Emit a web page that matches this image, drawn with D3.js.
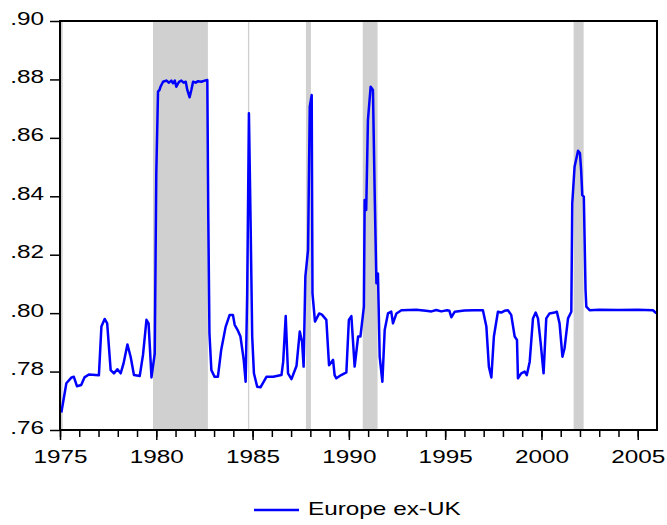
<!DOCTYPE html>
<html>
<head>
<meta charset="utf-8">
<script src="https://cdn.jsdelivr.net/npm/d3@7"></script>
<style>
  body { margin: 0; background: #fff; }
  text { font-family: "Liberation Sans", Arial, sans-serif; fill: #000; }
</style>
</head>
<body>
<div id="chart"></div>
<script>
// Data (decimal year, value)
var dates = [
  1975.07, 1975.33, 1975.6, 1975.72, 1975.88, 1976.1, 1976.27, 1976.5, 1977.02, 1977.15,
  1977.32, 1977.45, 1977.63, 1977.8, 1977.98, 1978.15, 1978.3, 1978.5, 1978.67, 1978.84,
  1979.14, 1979.31, 1979.49, 1979.6, 1979.75, 1979.92, 1980.0, 1980.09, 1980.17, 1980.22,
  1980.35, 1980.52, 1980.66, 1980.78, 1980.87, 1980.96, 1981.04, 1981.18, 1981.3, 1981.42,
  1981.53, 1981.61, 1981.73, 1981.82, 1981.91, 1982.05, 1982.17, 1982.34, 1982.51, 1982.65,
  1982.7, 1982.76, 1982.86, 1983.03, 1983.2, 1983.37, 1983.6, 1983.81, 1983.98, 1984.07,
  1984.24, 1984.37, 1984.54, 1984.64, 1984.72, 1984.81, 1984.9, 1984.98, 1985.07, 1985.24,
  1985.41, 1985.72, 1986.07, 1986.25, 1986.5, 1986.59, 1986.72, 1986.84, 1987.02, 1987.14,
  1987.28, 1987.45, 1987.57, 1987.65, 1987.74, 1987.88, 1987.97, 1988.07, 1988.11, 1988.24,
  1988.46, 1988.6, 1988.83, 1988.97, 1989.18, 1989.26, 1989.35, 1989.6, 1989.87, 1990.0,
  1990.13, 1990.3, 1990.48, 1990.6, 1990.78, 1990.82, 1990.9, 1990.99, 1991.13, 1991.25,
  1991.34, 1991.43, 1991.51, 1991.6, 1991.74, 1991.86, 1992.03, 1992.2, 1992.29, 1992.47,
  1992.73, 1993.5, 1994.0, 1994.29, 1994.54, 1994.8, 1995.1, 1995.22, 1995.32, 1995.5,
  1996.0, 1996.5, 1996.96, 1997.14, 1997.27, 1997.4, 1997.53, 1997.74, 1997.91, 1998.08,
  1998.26, 1998.43, 1998.61, 1998.73, 1998.78, 1998.95, 1999.13, 1999.24, 1999.39, 1999.56,
  1999.7, 1999.82, 1999.96, 2000.11, 2000.25, 2000.42, 2000.68, 2000.8, 2000.94, 2001.09,
  2001.2, 2001.38, 2001.55, 2001.6, 2001.72, 2001.9, 2002.0, 2002.06, 2002.12, 2002.2,
  2002.29, 2002.33, 2002.5, 2003.0, 2004.0, 2005.0, 2005.79, 2005.97
];
var values = [
  .766, .776, .778, .7782, .775, .7754, .778, .779, .7787, .7954,
  .798, .7965, .7805, .7794, .7808, .7794, .7828, .7893, .785, .7788,
  .7785, .7857, .7977, .7965, .778, .7862, .848, .8758, .8764, .8775,
  .8792, .8796, .8789, .8796, .8787, .8796, .8775, .8792, .8796, .8789,
  .8792, .8764, .8739, .8764, .8792, .8789, .8794, .8792, .8796, .8798,
  .833, .7931, .7805, .7782, .7782, .7874, .7953, .7994, .7994, .796,
  .794, .792, .784, .7765, .8068, .8684, .8296, .792, .7794, .7748,
  .7746, .7782, .7782, .7785, .7788, .7834, .799, .7794, .7774, .7795,
  .7819, .7937, .7902, .7817, .8125, .8216, .8707, .8747, .8068, .7971,
  .7999, .7995, .7977, .7822, .784, .7788, .7777, .7788, .7797, .7977,
  .799, .7817, .792, .792, .8022, .8387, .8353, .8661, .8775, .8764,
  .841, .8102, .8136, .7851, .7765, .7942, .7999, .8005, .7965, .7999,
  .801, .8012, .8008, .8006, .8011, .8006, .801, .8008, .7986, .8005,
  .8009, .801, .801, .7954, .7817, .778, .792, .8005, .8002, .8008,
  .801, .7994, .792, .7908, .7777, .7794, .78, .7788, .7834, .7982,
  .8002, .7982, .7897, .7794, .7982, .7999, .8002, .8005, .7965, .7851,
  .788, .7982, .8005, .8376, .8501, .8556, .8547, .849, .8404, .8399,
  .8079, .8022, .801, .8012, .8011, .8012, .801, .7999
];
// shaded periods (start, end)
var shadeStart = [1975.0, 1979.83, 1984.76, 1987.77, 1990.72, 2001.67];
var shadeEnd   = [1975.14, 1982.68, 1984.83, 1988.03, 1991.49, 2002.19];
var xTickYears = [1975, 1980, 1985, 1990, 1995, 2000, 2005];
var yTickVals = [.76, .78, .80, .82, .84, .86, .88, .90];
var seriesName = 'Europe ex-UK';

var W = 667, H = 525;
var pLeft = 60, pRight = 657, pTop = 21, pBottom = 430;
var sx = 1.28; // glyphs are stretched horizontally

var svg = d3.select('#chart').append('svg')
    .attr('width', W)
    .attr('height', H);

var x = d3.scaleLinear().domain([1975, 2006]).range([pLeft, pRight]);
var y = d3.scaleLinear().domain([.76, .90]).range([pBottom, pTop]);

// Shading
svg.selectAll('.shade')
    .data(shadeStart)
    .enter()
    .append('rect')
    .attr('class', 'shade')
    .attr('x', function(d) { return x(d); })
    .attr('y', pTop)
    .attr('width', function(d, i) { return x(shadeEnd[i]) - x(d); })
    .attr('height', pBottom - pTop)
    .style('fill', '#d0d0d0');

// Line
var pts = dates.map(function(d, i) { return [d, values[i]]; });
var line = d3.line()
    .x(function(d) { return x(d[0]); })
    .y(function(d) { return y(d[1]); });
svg.append('path')
    .datum(pts)
    .attr('d', line)
    .style('fill', 'none')
    .style('stroke', '#0000ff')
    .style('stroke-width', 2.5)
    .style('stroke-linejoin', 'round');

// Frame
svg.append('rect')
    .attr('x', pLeft).attr('y', pTop)
    .attr('width', pRight - pLeft).attr('height', pBottom - pTop)
    .style('fill', 'none')
    .style('stroke', '#000')
    .style('stroke-width', 2);

// Y axis
var yAxis = svg.append('g')
    .attr('transform', 'translate(' + pLeft + ',0)')
    .call(d3.axisLeft(y).tickValues(yTickVals).tickSize(10)
        .tickFormat(function(d) { return d3.format('.2f')(d).replace(/^0/, ''); }));
yAxis.select('.domain').remove();
yAxis.selectAll('line').style('stroke', '#000').style('stroke-width', 1.5);
yAxis.selectAll('text')
    .attr('x', -16 / sx)
    .attr('dy', 0)
    .attr('y', 3)
    .attr('transform', 'scale(' + sx + ',1)')
    .style('font-size', '19px')
    .style('font-family', '"Liberation Sans", Arial, sans-serif');

// X axis: minor yearly ticks
var minor = svg.append('g')
    .attr('transform', 'translate(0,' + pBottom + ')')
    .call(d3.axisBottom(x).tickValues(d3.range(1975, 2006)).tickSize(7).tickFormat(''));
minor.select('.domain').remove();
minor.selectAll('line').style('stroke', '#000').style('stroke-width', 1.5);

var xAxis = svg.append('g')
    .attr('transform', 'translate(0,' + pBottom + ')')
    .call(d3.axisBottom(x).tickValues(xTickYears).tickSize(10).tickFormat(d3.format('d')));
xAxis.select('.domain').remove();
xAxis.selectAll('line').style('stroke', '#000').style('stroke-width', 1.5);
xAxis.selectAll('text')
    .attr('y', 33)
    .attr('dy', 0)
    .attr('transform', 'scale(' + sx + ',1)')
    .style('font-size', '19px')
    .style('font-family', '"Liberation Sans", Arial, sans-serif');

// Legend
var legend = svg.append('g');
legend.append('line')
    .attr('x1', 254).attr('x2', 299)
    .attr('y1', 510).attr('y2', 510)
    .style('stroke', '#0000ff')
    .style('stroke-width', 2.5);
legend.append('text')
    .attr('transform', 'translate(308,515) scale(' + sx + ',1)')
    .style('font-size', '19px')
    .text(seriesName);
</script>
</body>
</html>
